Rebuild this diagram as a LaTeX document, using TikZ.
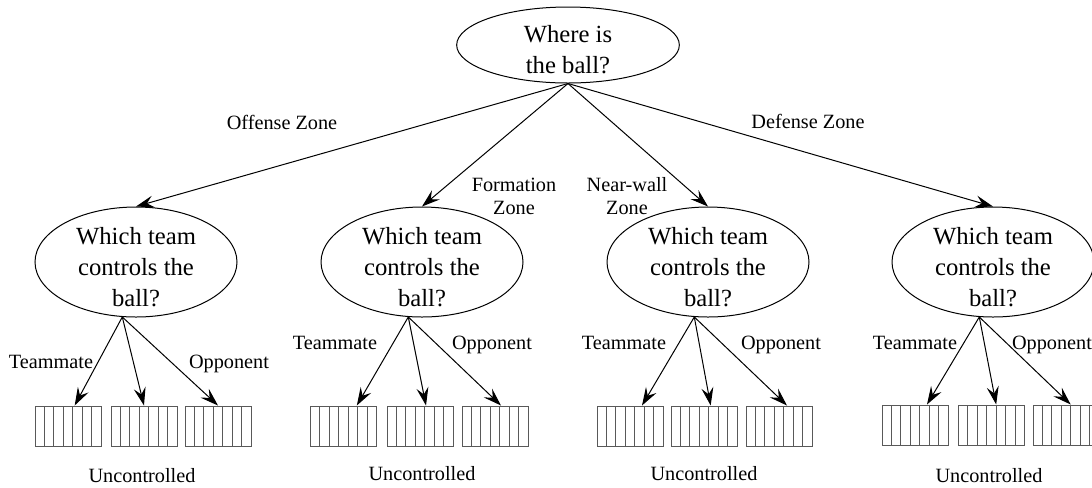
\documentclass[tikz,border=0pt]{standalone}
\usepackage{fontspec}
\setmainfont{Liberation Serif}
\usetikzlibrary{shapes.geometric,arrows.meta}

\tikzset{every picture/.style={line width=0.75pt}}
\newcommand{\topstrut}{\rule{0pt}{20pt}}
\tikzset{
  quest/.style={ellipse, draw, align=center, inner xsep=0pt, inner ysep=-6pt,
    font=\fontsize{18.5}{23.25}\selectfont},
  lbl/.style={font=\fontsize{15.2}{17.25}\selectfont, align=center, inner sep=0pt},
  cellbox/.style={draw=black!65, minimum width=49.5pt, minimum height=30pt, inner sep=0pt,
    path picture={\foreach \k in {1,...,6} \draw[black!65] ([xshift=\k*7.07pt]path picture bounding box.south west) -- ([xshift=\k*7.07pt]path picture bounding box.north west);}},
  flow/.style={-{Stealth[length=13.5pt,width=9pt,inset=5pt]}}
}

\begin{document}
\begin{tikzpicture}[x=0.75pt,y=0.75pt,yscale=-1,xscale=1]
	\useasboundingbox (0,0) rectangle (1092,487);

	%Shape: Ellipse [root]
	\node [quest, minimum width=167pt, minimum height=57pt] (root) at (568,45) {\topstrut Where is\\the ball?};
	%Shape: Ellipse [questions]
	\node [quest, minimum width=151.5pt, minimum height=82.5pt] (q1) at (136,262) {\topstrut Which team\\controls the\\ball?};
	\node [quest, minimum width=151.5pt, minimum height=82.5pt] (q2) at (422,262) {\topstrut Which team\\controls the\\ball?};
	\node [quest, minimum width=151.5pt, minimum height=82.5pt] (q3) at (708,262) {\topstrut Which team\\controls the\\ball?};
	\node [quest, minimum width=151.5pt, minimum height=82.5pt] (q4) at (993,262) {\topstrut Which team\\controls the\\ball?};

	%Shape: Rectangle [cells]
	\node [cellbox] (b11) at (68,426) {};
	\node [cellbox] (b12) at (144,426) {};
	\node [cellbox] (b13) at (218,426) {};
	\node [cellbox] (b21) at (343.5,426) {};
	\node [cellbox] (b22) at (420,426) {};
	\node [cellbox] (b23) at (495,426) {};
	\node [cellbox] (b31) at (630,426) {};
	\node [cellbox] (b32) at (704,426) {};
	\node [cellbox] (b33) at (779,426) {};
	\node [cellbox] (b41) at (915,425) {};
	\node [cellbox] (b42) at (991.5,425) {};
	\node [cellbox] (b43) at (1066,425) {};

	%Straight Lines [zones]
	\draw [flow] (root.south) -- (q1.north);
	\draw [flow] (root.south) -- (q2.north);
	\draw [flow] (root.south) -- (q3.north);
	\draw [flow] (root.south) -- (q4.north);

	%Straight Lines [control]
	\draw [flow] (q1.256) -- ([xshift=5pt]b11.north);
	\draw [flow] (q1.256) -- (b12.north);
	\draw [flow] (q1.256) -- (b13.north);
	\draw [flow] (q2.256) -- ([xshift=10pt]b21.north);
	\draw [flow] (q2.256) -- ([xshift=4.5pt]b22.north);
	\draw [flow] (q2.256) -- ([xshift=4.5pt]b23.north);
	\draw [flow] (q3.256) -- ([xshift=9pt]b31.north);
	\draw [flow] (q3.256) -- ([xshift=5pt]b32.north);
	\draw [flow] (q3.256) -- ([xshift=6pt]b33.north);
	\draw [flow] (q4.256) -- ([xshift=9pt]b41.north);
	\draw [flow] (q4.256) -- ([xshift=3.5pt]b42.north);
	\draw [flow] (q4.256) -- ([xshift=3.5pt]b43.north);

	% Text Node
	\node [lbl, anchor=base] (offense) at (282,129) {Offense Zone};
	% Text Node
	\node [lbl] (formation) at (514,196) {Formation\\Zone};
	% Text Node
	\node [lbl] (nearwall) at (627,196) {Near-wall\\Zone};
	% Text Node
	\node [lbl, anchor=base] (defense) at (808,128) {Defense Zone};

	% Text Node
	\node [lbl, anchor=base] (mate1) at (51,368) {Teammate};
	\node [lbl, anchor=base] (opp1) at (229,368) {Opponent};
	\node [lbl, anchor=base] (unc1) at (142,482) {Uncontrolled};
	% Text Node
	\node [lbl, anchor=base] (mate2) at (335,349) {Teammate};
	\node [lbl, anchor=base] (opp2) at (492,349) {Opponent};
	\node [lbl, anchor=base] (unc2) at (422,480) {Uncontrolled};
	% Text Node
	\node [lbl, anchor=base] (mate3) at (624,349) {Teammate};
	\node [lbl, anchor=base] (opp3) at (781,349) {Opponent};
	\node [lbl, anchor=base] (unc3) at (704,480) {Uncontrolled};
	% Text Node
	\node [lbl, anchor=base] (mate4) at (915,349) {Teammate};
	\node [lbl, anchor=base] (opp4) at (1052,349) {Opponent};
	\node [lbl, anchor=base] (unc4) at (989,482) {Uncontrolled};

\end{tikzpicture}
\end{document}
